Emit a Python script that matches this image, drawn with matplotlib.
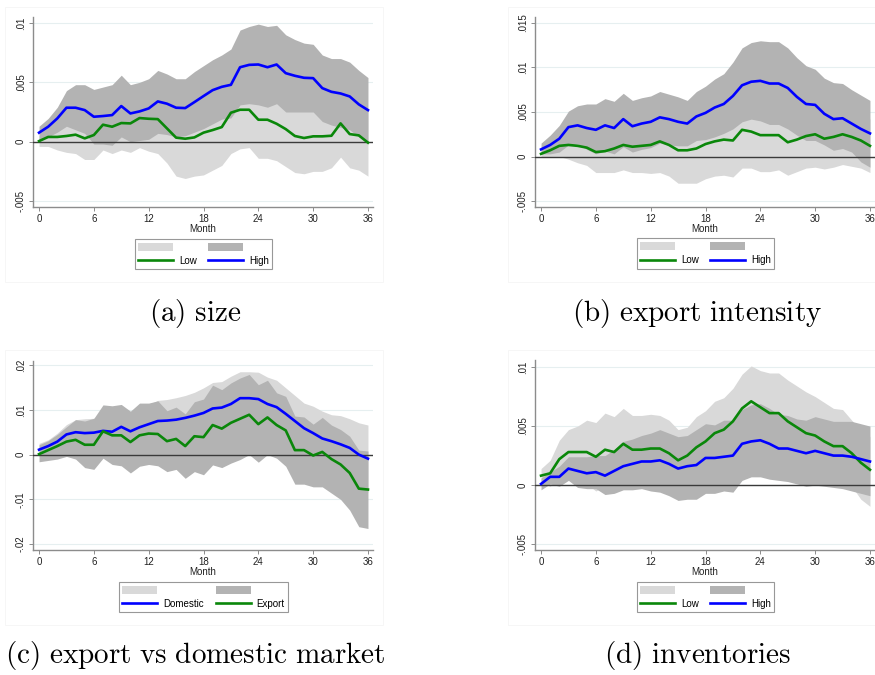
import numpy as np
import matplotlib
matplotlib.use("Agg")
import matplotlib.pyplot as plt
from matplotlib.patches import Patch, Rectangle
from matplotlib.lines import Line2D

plt.rcParams["font.family"] = ["Liberation Sans", "DejaVu Sans"]
plt.rcParams["mathtext.fontset"] = "cm"

months = np.arange(37)
xticks = [0, 6, 12, 18, 24, 30, 36]

# ---------------- (a) size ----------------
a_low = [0.00005, 0.0004, 0.0004, 0.00048, 0.00059, 0.00028, 0.00056, 0.00143, 0.00126, 0.00157,
         0.00154, 0.00199, 0.00193, 0.0019, 0.00112, 0.00034, 0.00025, 0.00036, 0.00076, 0.00098,
         0.00123, 0.00244, 0.00269, 0.00269, 0.00185, 0.00185, 0.00151, 0.00106, 0.00048, 0.00031,
         0.00045, 0.00045, 0.0005, 0.00154, 0.00064, 0.00053, -0.00008]
a_low_hi = [0.0005, 0.0012, 0.0015, 0.0019, 0.0022, 0.0021, 0.0026, 0.0036, 0.0035, 0.0038,
            0.004, 0.0045, 0.0047, 0.0048, 0.004, 0.0036, 0.0036, 0.0036, 0.0043, 0.0044,
            0.0045, 0.0059, 0.006, 0.0059, 0.0051, 0.0051, 0.0046, 0.0042, 0.0036, 0.0033,
            0.0034, 0.0034, 0.0032, 0.0044, 0.0035, 0.0035, 0.0027]
a_low_lo = [-0.0004, -0.0004, -0.0007, -0.0009, -0.001, -0.0015, -0.0015, -0.0007, -0.001, -0.0007,
            -0.0009, -0.0005, -0.0008, -0.001, -0.0018, -0.0029, -0.0031, -0.0029, -0.0028, -0.0024,
            -0.002, -0.001, -0.0006, -0.0005, -0.0014, -0.0014, -0.0016, -0.0021, -0.0026, -0.0027,
            -0.0025, -0.0025, -0.0022, -0.0013, -0.0022, -0.0024, -0.0029]
a_high = [0.00076, 0.00126, 0.00196, 0.00286, 0.00286, 0.00266, 0.0021, 0.00216, 0.00224, 0.003,
          0.00238, 0.00255, 0.0028, 0.00339, 0.0032, 0.00286, 0.00283, 0.00333, 0.00384, 0.00434,
          0.00462, 0.00479, 0.00627, 0.00647, 0.0065, 0.00627, 0.0065, 0.00577, 0.00555, 0.00538,
          0.00535, 0.00451, 0.0042, 0.00406, 0.00381, 0.00314, 0.00266]
a_high_hi = [0.0013, 0.00196, 0.0029, 0.0043, 0.0048, 0.0048, 0.0044, 0.0046, 0.0048, 0.0056,
             0.0048, 0.005, 0.0053, 0.006, 0.0057, 0.0053, 0.0053, 0.0059, 0.0064, 0.0069,
             0.0073, 0.0078, 0.0094, 0.0097, 0.0099, 0.0097, 0.0098, 0.009, 0.0086, 0.0083,
             0.0082, 0.0073, 0.007, 0.007, 0.0067, 0.006, 0.0054]
a_high_lo = [0.00014, 0.0004, 0.0008, 0.0013, 0.001, 0.0007, -0.0002, -0.0002, -0.0003, 0.0004,
             0.0, 0.0001, 0.0002, 0.0007, 0.0006, 0.0004, 0.0005, 0.0008, 0.0011, 0.0015,
             0.0019, 0.002, 0.0031, 0.0032, 0.0031, 0.0029, 0.0032, 0.0025, 0.0025, 0.0025,
             0.0025, 0.0017, 0.0014, 0.0012, 0.001, 0.0004, 0.0]

# ---------------- (b) export intensity ----------------
b_low = [0.0003, 0.0007, 0.0012, 0.0013, 0.0012, 0.001, 0.0005, 0.0006, 0.0009, 0.0013,
         0.0011, 0.0012, 0.0013, 0.0017, 0.0013, 0.0007, 0.0007, 0.0009, 0.0014, 0.0017,
         0.0019, 0.0018, 0.003, 0.0028, 0.0024, 0.0024, 0.0024, 0.0016, 0.0019, 0.0023,
         0.0025, 0.002, 0.0022, 0.0025, 0.0022, 0.0018, 0.0012]
b_low_hi = [0.0006, 0.0014, 0.0024, 0.0029, 0.0031, 0.003, 0.0028, 0.003, 0.0036, 0.0041,
            0.004, 0.0042, 0.0045, 0.0052, 0.0048, 0.0044, 0.0044, 0.0048, 0.0053, 0.0056,
            0.0059, 0.0059, 0.0073, 0.0069, 0.0065, 0.0065, 0.0063, 0.0053, 0.0055, 0.0059,
            0.0062, 0.0054, 0.0056, 0.0059, 0.0055, 0.0049, 0.0042]
b_low_lo = [0.0, 0.0, 0.0, -0.0003, -0.0007, -0.001, -0.0018, -0.0018, -0.0018, -0.0015,
            -0.0018, -0.0018, -0.0019, -0.0018, -0.0022, -0.003, -0.003, -0.003, -0.0025, -0.0022,
            -0.0021, -0.0023, -0.0013, -0.0013, -0.0017, -0.0017, -0.0015, -0.0021, -0.0017, -0.0013,
            -0.0012, -0.0014, -0.0012, -0.0009, -0.0011, -0.0013, -0.0018]
b_high = [0.0008, 0.0013, 0.002, 0.0033, 0.0035, 0.0032, 0.003, 0.0035, 0.0032, 0.0042,
          0.0034, 0.0037, 0.0039, 0.0044, 0.0042, 0.0039, 0.0037, 0.0045, 0.0049, 0.0055,
          0.0059, 0.0068, 0.008, 0.0084, 0.0085, 0.0082, 0.0082, 0.0077, 0.0067, 0.0059,
          0.0058, 0.0048, 0.0042, 0.0043, 0.0037, 0.0031, 0.0026]
b_high_hi = [0.0015, 0.0024, 0.0035, 0.0051, 0.0057, 0.0059, 0.0059, 0.0065, 0.0062, 0.0071,
             0.0063, 0.0066, 0.0068, 0.0073, 0.007, 0.0067, 0.0063, 0.0073, 0.0079, 0.0087,
             0.0093, 0.0106, 0.0122, 0.0128, 0.013, 0.0129, 0.0129, 0.0122, 0.0111, 0.0102,
             0.0098, 0.0088, 0.0083, 0.0082, 0.0075, 0.0069, 0.0063]
b_high_lo = [0.0003, 0.0003, 0.0005, 0.0013, 0.0014, 0.0008, 0.0003, 0.0006, 0.0003, 0.0011,
             0.0005, 0.0008, 0.001, 0.0015, 0.0013, 0.0012, 0.0012, 0.0018, 0.0019, 0.0022,
             0.0026, 0.0031, 0.0039, 0.0042, 0.004, 0.0036, 0.0036, 0.0031, 0.0024, 0.0018,
             0.0018, 0.0013, 0.0007, 0.0009, 0.0005, -0.0006, -0.0012]

# ---------------- (c) export vs domestic market ----------------
c_dom = [0.0011, 0.0019, 0.0029, 0.0045, 0.005, 0.0048, 0.0049, 0.0053, 0.0051, 0.0062,
         0.0052, 0.0061, 0.0068, 0.0075, 0.0076, 0.0078, 0.0082, 0.0087, 0.0093, 0.0103,
         0.0105, 0.0113, 0.0126, 0.0126, 0.0124, 0.0113, 0.0106, 0.0091, 0.0075, 0.0059,
         0.0048, 0.0036, 0.003, 0.0023, 0.0015, 0.0, -0.0009]
c_dom_hi = [0.0025, 0.0033, 0.0048, 0.0067, 0.0078, 0.008, 0.0081, 0.0093, 0.0093, 0.0097,
            0.0093, 0.0104, 0.0112, 0.0121, 0.0123, 0.0127, 0.0132, 0.0139, 0.0149, 0.0161,
            0.0163, 0.0175, 0.0185, 0.0185, 0.0184, 0.0173, 0.0166, 0.0149, 0.0132, 0.0115,
            0.0108, 0.0097, 0.0089, 0.0087, 0.008, 0.0071, 0.0066]
c_dom_lo = [-0.0003, 0.0005, 0.001, 0.0023, 0.0022, 0.0016, 0.0017, 0.0013, 0.0009, 0.0027,
            0.0011, 0.0018, 0.0024, 0.0029, 0.0029, 0.0029, 0.0032, 0.0035, 0.0037, 0.0045,
            0.0047, 0.0051, 0.0067, 0.0067, 0.0064, 0.0053, 0.0046, 0.0033, 0.0018, 0.0003,
            -0.0012, -0.0025, -0.0029, -0.0041, -0.005, -0.0071, -0.0084]
c_exp = [0.0001, 0.001, 0.0019, 0.0029, 0.0033, 0.0022, 0.0022, 0.0052, 0.0043, 0.0043,
         0.0028, 0.0043, 0.0047, 0.0046, 0.003, 0.0035, 0.0019, 0.0041, 0.0039, 0.0066,
         0.0058, 0.0071, 0.008, 0.0089, 0.0068, 0.0083, 0.0066, 0.0054, 0.001, 0.001,
         -0.0002, 0.0006, -0.001, -0.0022, -0.0041, -0.0076, -0.0078]
c_exp_hi = [0.0022, 0.0031, 0.0045, 0.0062, 0.0078, 0.0075, 0.0081, 0.0111, 0.0109, 0.0112,
            0.0097, 0.0115, 0.0115, 0.012, 0.0098, 0.0106, 0.0091, 0.0118, 0.0124, 0.0155,
            0.0145, 0.016, 0.0171, 0.0179, 0.0156, 0.0166, 0.0138, 0.013, 0.0086, 0.0084,
            0.0068, 0.0083, 0.0066, 0.0056, 0.0041, 0.001, 0.0008]
c_exp_lo = [-0.0016, -0.0013, -0.001, -0.0004, -0.001, -0.0029, -0.0033, -0.0008, -0.0022, -0.0025,
            -0.0041, -0.0026, -0.0022, -0.0025, -0.0038, -0.0033, -0.0053, -0.0038, -0.0045, -0.0023,
            -0.0029, -0.0019, -0.0011, 0.0, -0.0017, 0.0, -0.0008, -0.0026, -0.0066, -0.0066,
            -0.0072, -0.0072, -0.0086, -0.01, -0.0124, -0.0161, -0.0165]

# ---------------- (d) inventories ----------------
d_low = [0.0008, 0.001, 0.0022, 0.0028, 0.0028, 0.0028, 0.0024, 0.003, 0.0028, 0.0035,
         0.003, 0.003, 0.0031, 0.0031, 0.0027, 0.0021, 0.0025, 0.0032, 0.0037, 0.0044,
         0.0047, 0.0054, 0.0065, 0.0071, 0.0066, 0.0061, 0.0061, 0.0054, 0.0049, 0.0044,
         0.0042, 0.0037, 0.0033, 0.0033, 0.0027, 0.0019, 0.0013]
d_low_hi = [0.0014, 0.0021, 0.0038, 0.0047, 0.005, 0.0055, 0.0053, 0.0061, 0.0058, 0.0065,
            0.0059, 0.0059, 0.006, 0.0059, 0.0055, 0.0047, 0.0049, 0.0058, 0.0063, 0.0071,
            0.0074, 0.0082, 0.0094, 0.0101, 0.0097, 0.0095, 0.0095, 0.0089, 0.0084, 0.0079,
            0.0075, 0.007, 0.0065, 0.0064, 0.0055, 0.0047, 0.0041]
d_low_lo = [0.0002, -0.0001, 0.0006, 0.0009, 0.0006, 0.0001, -0.0005, -0.0001, -0.0002, 0.0005,
            0.0001, 0.0001, 0.0002, 0.0003, -0.0001, -0.0005, 0.0001, 0.0006, 0.0011, 0.0017,
            0.002, 0.0026, 0.0036, 0.0041, 0.0035, 0.0027, 0.0027, 0.0019, 0.0014, 0.0009,
            0.0009, 0.0004, 0.0001, 0.0002, -0.0001, -0.0012, -0.0018]
d_high = [0.0001, 0.0007, 0.0007, 0.0014, 0.0012, 0.001, 0.0011, 0.0008, 0.0012, 0.0016,
          0.0018, 0.002, 0.002, 0.0021, 0.0018, 0.0014, 0.0016, 0.0017, 0.0023, 0.0023,
          0.0024, 0.0025, 0.0035, 0.0037, 0.0038, 0.0035, 0.0031, 0.0031, 0.0029, 0.0027,
          0.0029, 0.0027, 0.0025, 0.0025, 0.0024, 0.0022, 0.002]
d_high_hi = [0.0006, 0.0011, 0.0016, 0.0024, 0.0024, 0.0024, 0.0025, 0.0025, 0.003, 0.0037,
             0.0039, 0.0042, 0.0044, 0.0047, 0.0044, 0.0041, 0.0042, 0.0047, 0.0052, 0.0051,
             0.0055, 0.0055, 0.0064, 0.0068, 0.0069, 0.0065, 0.006, 0.0059, 0.0056, 0.0055,
             0.0058, 0.0056, 0.0054, 0.0054, 0.0054, 0.0052, 0.005]
d_high_lo = [-0.0004, 0.0001, -0.0001, 0.0004, -0.0002, -0.0003, -0.0003, -0.0008, -0.0007, -0.0004,
             -0.0004, -0.0003, -0.0005, -0.0006, -0.0009, -0.0013, -0.0012, -0.0012, -0.0007, -0.0007,
             -0.0005, -0.0006, 0.0004, 0.0007, 0.0007, 0.0005, 0.0004, 0.0003, 0.0001, -0.0001,
             0.0, -0.0001, -0.0002, -0.0003, -0.0005, -0.0007, -0.0009]

LIGHT = "#d9d9d9"
DARK = "#b3b3b3"
BLUE = "#0000ff"
GREEN = "#0a870a"
W, H = 875, 675

fig = plt.figure(figsize=(W / 100, H / 100), dpi=100)


def px_axes(left, top, right, bottom):
    return fig.add_axes([left / W, 1 - bottom / H, (right - left) / W, (bottom - top) / H])


def frame(left, top, right, bottom):
    fig.patches.append(Rectangle((left / W, 1 - bottom / H), (right - left) / W, (bottom - top) / H,
                                 transform=fig.transFigure, fill=False, edgecolor="#f6f6f6",
                                 linewidth=0.7, zorder=0))


def panel(box, ylim, yticks, ylabels, light, dark, line1, line2):
    ax = px_axes(*box)
    ax.fill_between(months, light[1], light[0], color=LIGHT, linewidth=0, zorder=1)
    ax.fill_between(months, dark[1], dark[0], color=DARK, linewidth=0, zorder=2)
    ax.axhline(0, color="#3a3a3a", linewidth=1.0, zorder=3)
    ax.plot(months, line1[0], color=line1[1], linewidth=1.9, zorder=4)
    ax.plot(months, line2[0], color=line2[1], linewidth=1.9, zorder=4)
    ax.set_xlim(-0.66, 36.55)
    ax.set_ylim(*ylim)
    ax.set_xticks(xticks)
    ax.set_xticklabels([str(t) for t in xticks], fontsize=7, color="#222222")
    ax.set_yticks(yticks)
    ax.set_yticklabels(ylabels, fontsize=7, rotation=90, va="center", color="#222222")
    for t in yticks:
        ax.axhline(t, color="#e6eff0", linewidth=0.8, zorder=0)
    ax.set_xlabel("Month", fontsize=7, labelpad=0, color="#222222")
    for s in ("top", "right"):
        ax.spines[s].set_visible(False)
    for s in ("left", "bottom"):
        ax.spines[s].set_color("#8c8c8c")
        ax.spines[s].set_linewidth(1.0)
    ax.tick_params(axis="both", direction="out", length=3, width=0.7, color="#8c8c8c", pad=2)
    ax.set_facecolor("white")
    return ax


def legend(center, labels, colors):
    handles = [Patch(facecolor=LIGHT, edgecolor="none"),
               Line2D([], [], color=colors[0], linewidth=1.9),
               Patch(facecolor=DARK, edgecolor="none"),
               Line2D([], [], color=colors[1], linewidth=1.9)]
    lg = fig.legend(handles, ["", labels[0], "", labels[1]], ncol=2,
                    loc="center", bbox_to_anchor=(center[0] / W, 1 - center[1] / H),
                    fontsize=7, frameon=True, fancybox=False, edgecolor="#7f7f7f",
                    handlelength=3.6, handleheight=0.9, handletextpad=0.6,
                    columnspacing=1.2, labelspacing=0.35, borderpad=0.35,
                    borderaxespad=0)
    lg.get_frame().set_linewidth(0.8)
    return lg


def caption(x, y, text):
    fig.text(x / W, 1 - y / H, text, ha="center", va="center", fontsize=21)


# panel frames
frame(5, 7, 383, 282)
frame(508, 7, 886, 282)
frame(5, 350, 383, 625)
frame(508, 350, 886, 625)

panel((33, 17, 373, 207), (-0.0055, 0.0105), [-0.005, 0, 0.005, 0.01],
      ["-.005", "0", ".005", ".01"],
      (a_low_hi, a_low_lo), (a_high_hi, a_high_lo), (a_low, GREEN), (a_high, BLUE))
legend((203.5, 254), ("Low", "High"), (GREEN, BLUE))
caption(195, 314, r"$\mathrm{(a)\ size}$")

panel((535, 17, 875, 207), (-0.00567, 0.01567), [-0.005, 0, 0.005, 0.01, 0.015],
      ["-.005", "0", ".005", ".01", ".015"],
      (b_low_hi, b_low_lo), (b_high_hi, b_high_lo), (b_low, GREEN), (b_high, BLUE))
legend((705.5, 253.5), ("Low", "High"), (GREEN, BLUE))
caption(697, 314, r"$\mathrm{(b)\ export\ intensity}$")

panel((33, 361, 373, 550), (-0.0213, 0.0209), [-0.02, -0.01, 0, 0.01, 0.02],
      ["-.02", "-.01", "0", ".01", ".02"],
      (c_dom_hi, c_dom_lo), (c_exp_hi, c_exp_lo), (c_dom, BLUE), (c_exp, GREEN))
legend((203.5, 597), ("Domestic", "Export"), (BLUE, GREEN))
caption(195, 655, r"$\mathrm{(c)\ export\ vs\ domestic\ market}$")

panel((535, 360, 875, 550), (-0.0055, 0.0106), [-0.005, 0, 0.005, 0.01],
      ["-.005", "0", ".005", ".01"],
      (d_low_hi, d_low_lo), (d_high_hi, d_high_lo), (d_low, GREEN), (d_high, BLUE))
legend((705.5, 597), ("Low", "High"), (GREEN, BLUE))
caption(697, 655, r"$\mathrm{(d)\ inventories}$")

fig.savefig("out.png", dpi=100, facecolor="white")
